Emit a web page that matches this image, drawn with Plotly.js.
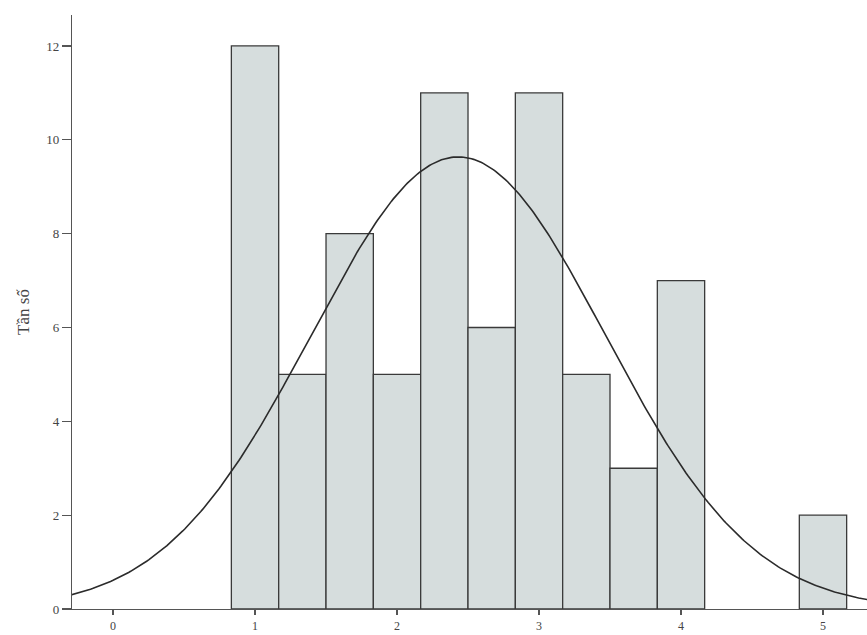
<!DOCTYPE html>
<html>
<head>
<meta charset="utf-8">
<script src="https://cdn.plot.ly/plotly-3.0.1.min.js"></script>
<style>html,body{margin:0;padding:0;background:#fff;}#chart{width:867px;height:635px;}</style>
</head>
<body>
<div id="chart"></div>
<script>
// Bin centres (bin width 1/3) and frequencies
const binCenters = [1, 4/3, 5/3, 2, 7/3, 8/3, 3, 10/3, 11/3, 4, 5];
const frequencies = [12, 5, 8, 5, 11, 6, 11, 5, 3, 7, 2];
const binWidth = 1/3;
const xTicks = [0, 1, 2, 3, 4, 5];
const yTicks = [0, 2, 4, 6, 8, 10, 12];
const yTitle = 'Tần số';

// Fitted normal curve from the histogram data
const n = frequencies.reduce((a, b) => a + b, 0);
const mean = binCenters.reduce((s, x, i) => s + x * frequencies[i], 0) / n;
const variance = binCenters.reduce((s, x, i) => s + frequencies[i] * (x - mean) ** 2, 0) / (n - 1);
const sd = Math.sqrt(variance);
const curveX = [], curveY = [];
for (let k = 0; k <= 400; k++) {
  const x = -0.3 + k * (5.65 / 400);
  curveX.push(x);
  curveY.push(n * binWidth / (sd * Math.sqrt(2 * Math.PI)) * Math.exp(-0.5 * ((x - mean) / sd) ** 2));
}

const traces = [
  {
    type: 'bar', x: binCenters, y: frequencies, width: binWidth,
    marker: {color: '#d6dddd', line: {color: '#3a3a3a', width: 1.3}},
    hoverinfo: 'x+y'
  },
  {
    type: 'scatter', mode: 'lines', x: curveX, y: curveY,
    line: {color: '#2b2b2b', width: 1.6}, hoverinfo: 'skip'
  }
];

const layout = {
  width: 867, height: 635,
  margin: {l: 72, r: 0, t: 15, b: 26},
  paper_bgcolor: '#ffffff', plot_bgcolor: '#ffffff',
  showlegend: false,
  font: {family: 'Liberation Serif, Times New Roman, serif', color: '#444', size: 13},
  xaxis: {
    range: [-0.289, 5.31], tickvals: xTicks, ticktext: xTicks.map(String),
    showgrid: false, zeroline: false, showline: true, linecolor: '#555', linewidth: 1.2,
    ticks: 'outside', ticklen: 5, tickcolor: '#555', tickwidth: 1.2,
    tickfont: {size: 12, color: '#444'}
  },
  yaxis: {
    range: [0, 12.66], tickvals: yTicks, ticktext: yTicks.map(String),
    showgrid: false, zeroline: false, showline: true, linecolor: '#555', linewidth: 1.2,
    ticks: 'outside', ticklen: 9, tickcolor: '#555', tickwidth: 1.2,
    tickfont: {size: 13, color: '#444'},
    title: {text: yTitle, font: {size: 17, color: '#444'}, standoff: 12}
  },
  bargap: 0
};

Plotly.newPlot('chart', traces, layout, {displayModeBar: false, staticPlot: true});
</script>
</body>
</html>
